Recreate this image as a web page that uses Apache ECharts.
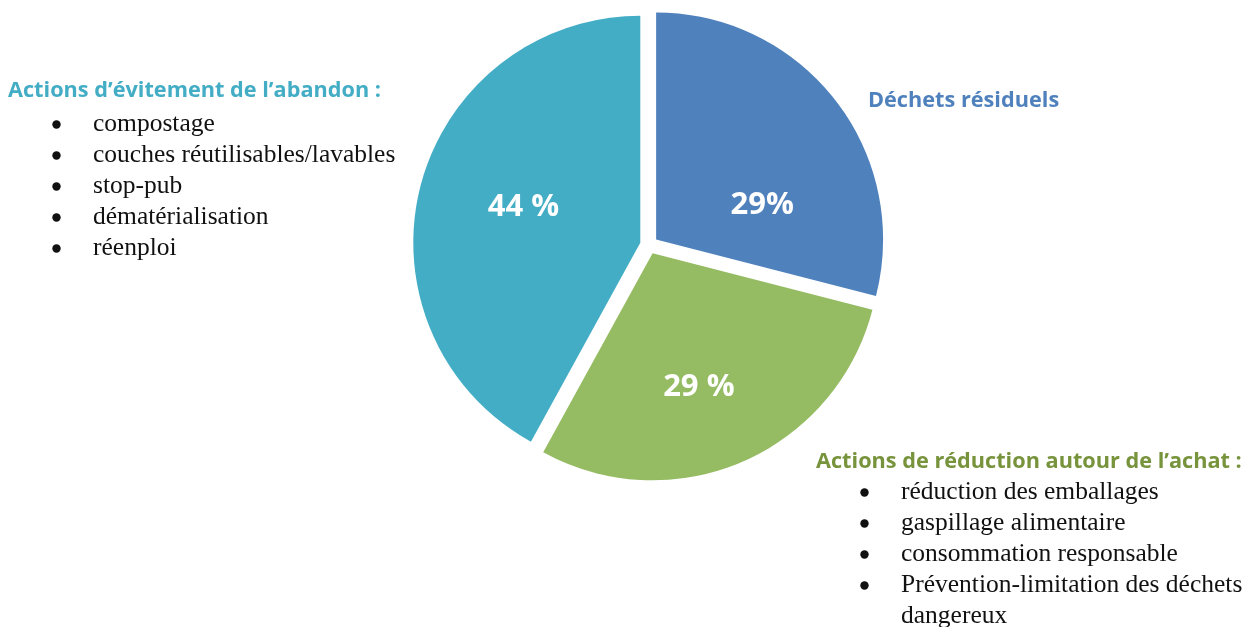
<!DOCTYPE html>
<html>
<head>
<meta charset="utf-8">
<script src="https://cdn.jsdelivr.net/npm/echarts@6/dist/echarts.min.js"></script>
<style>
  html, body { margin: 0; padding: 0; background: #fff; }
  #chart { width: 1251px; height: 627px; }
</style>
</head>
<body>
<div id="chart"></div>
<script>
// données du graphique
var categories = ["Déchets résiduels", "Actions de réduction autour de l’achat", "Actions d’évitement de l’abandon"];
var values = [29, 29, 42];
var valueLabels = ["29%", "29 %", "44 %"];
var actionsAchat = ["réduction des emballages", "gaspillage alimentaire", "consommation responsable", "Prévention-limitation des déchets\ndangereux"];
var actionsAbandon = ["compostage", "couches réutilisables/lavables", "stop-pub", "dématérialisation", "réenploi"];

var colors = ["#4F81BD", "#95BC63", "#43ADC5"];
var titleColors = ["#4F81BD", "#77933C", "#43ADC5"];
// décalage des étiquettes dans les parts
var labelShift = [[14, 37], [0, 27], [-4, -7]];

var serif = "25.5px 'Liberation Serif', 'Times New Roman', serif";
var sans = "bold 21.7px 'Open Sans', sans-serif";

// construit une liste à puces
function bulletList(items, x, y) {
  var els = [];
  items.forEach(function (txt, i) {
    els.push({
      type: "circle",
      shape: { cx: x + 3.5, cy: y + i * 31 + 0.5, r: 4.2 },
      style: { fill: "#111" }
    });
    els.push({
      type: "text", x: x + 40, y: y + i * 31,
      style: { text: txt, font: serif, fill: "#111", verticalAlign: "top", lineHeight: 31, y: -15 }
    });
  });
  return els;
}

var graphics = [
  { type: "text", x: 868, y: 101, style: { text: categories[0], font: sans, fill: titleColors[0], verticalAlign: "middle" } },
  { type: "text", x: 816, y: 462, style: { text: categories[1] + " :", font: sans, fill: titleColors[1], verticalAlign: "middle" } },
  { type: "text", x: 8, y: 91, style: { text: categories[2] + " :", font: sans, fill: titleColors[2], verticalAlign: "middle" } }
];
graphics = graphics.concat(bulletList(actionsAbandon, 53, 124));
graphics = graphics.concat(bulletList(actionsAchat, 861, 492));

var myChart = echarts.init(document.getElementById("chart"));
myChart.setOption({
  animation: false,
  color: colors,
  graphic: graphics,
  series: [
    {
      type: "pie",
      center: [649, 245],
      radius: 227,
      startAngle: 90,
      clockwise: true,
      selectedMode: "multiple",
      selectedOffset: 9,
      itemStyle: { borderWidth: 0 },
      emphasis: { disabled: true },
      label: {
        position: "inside",
        color: "#fff",
        fontFamily: "Open Sans",
        fontWeight: "bold",
        fontSize: 31,
        formatter: function (p) {
          return valueLabels[p.dataIndex];
        }
      },
      labelLine: { show: false },
      labelLayout: function (p) {
        var s = labelShift[p.dataIndex];
        return { dx: s[0], dy: s[1] };
      },
      data: categories.map(function (c, i) {
        return { name: c, value: values[i], selected: true };
      })
    }
  ]
});

window.addEventListener("resize", function () {
  myChart.resize();
});
</script>
</body>
</html>
